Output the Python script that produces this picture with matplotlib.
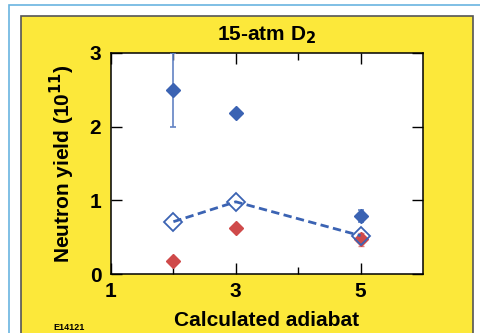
import matplotlib.pyplot as plt
from matplotlib.patches import Rectangle

plt.rcParams['font.family'] = ['Liberation Sans', 'DejaVu Sans']
plt.rcParams['font.weight'] = 'bold'

# values
adiabat = [2, 3, 5]
yield_blue = [2.5, 2.19, 0.79]
yield_blue_err = [0.5, 0.0, 0.08]
yield_red = [0.18, 0.62, 0.47]
yield_red_err = [0.0, 0.0, 0.09]
yield_sim = [0.71, 0.98, 0.52]

x_ticks = [1, 3, 5]
y_ticks = [0, 1, 2, 3]

blue = '#3b63b3'
red = '#cf4a4a'
yellow = '#fce83a'

fig = plt.figure(figsize=(4.8, 3.33), dpi=100)
fig.patch.set_facecolor('white')

# page frame + yellow panel (behind the axes)
fig.patches.append(Rectangle((9 / 480, -0.1), 1.2, (333 - 5) / 333 + 0.1,
                             transform=fig.transFigure, fill=False,
                             edgecolor='#6ab4e0', linewidth=1.2, zorder=-2))
fig.patches.append(Rectangle((21 / 480, -0.1), (473 - 21) / 480, (333 - 16) / 333 + 0.1,
                             transform=fig.transFigure, facecolor=yellow,
                             edgecolor='#555555', linewidth=1.2, zorder=-1))

ax = fig.add_axes([111 / 480, (333 - 274) / 333, 312 / 480, 221 / 333])
ax.set_facecolor('white')

ax.errorbar(adiabat, yield_blue, yerr=yield_blue_err, fmt='D', color=blue,
            ecolor='#6283c4', elinewidth=1.2, capsize=2.5, capthick=1.2,
            markersize=7, zorder=3)
ax.errorbar(adiabat, yield_red, yerr=yield_red_err, fmt='D', color=red,
            ecolor='#e08080', elinewidth=1.0, capsize=2.5, capthick=1.0,
            markersize=7, zorder=3)
ax.plot(adiabat, yield_sim, linestyle='--', dashes=(3, 1.6), color=blue,
        linewidth=2.0, marker='D', markersize=9, markerfacecolor='none',
        markeredgecolor=blue, markeredgewidth=1.3, zorder=4)

ax.set_xlim(1, 6)
ax.set_ylim(0, 3)
ax.set_xticks(x_ticks)
ax.set_xticks([2, 4], minor=True)
ax.set_yticks(y_ticks)
ax.tick_params(which='both', direction='in', top=True, right=True,
               labelsize=15, width=1.0)
ax.tick_params(which='major', length=8)
ax.tick_params(which='minor', length=5)
ax.tick_params(axis='x', which='major', pad=6)
ax.tick_params(axis='y', which='major', pad=7)
for lab in ax.get_xticklabels() + ax.get_yticklabels():
    lab.set_fontweight('bold')
for s in ax.spines.values():
    s.set_linewidth(1.1)

ax.set_title('15-atm D$_\\mathbf{2}$', fontsize=15, fontweight='bold', pad=9)
ax.set_xlabel('Calculated adiabat', fontsize=15, fontweight='bold', labelpad=7)
ax.set_ylabel('Neutron yield (10$^\\mathbf{11}$)', fontsize=15,
              fontweight='bold', labelpad=9)

fig.text(53 / 480, 1 - 328 / 333, 'E14121', fontsize=6.5, fontweight='bold',
         va='center', ha='left')

fig.savefig('out.png', dpi=100)
